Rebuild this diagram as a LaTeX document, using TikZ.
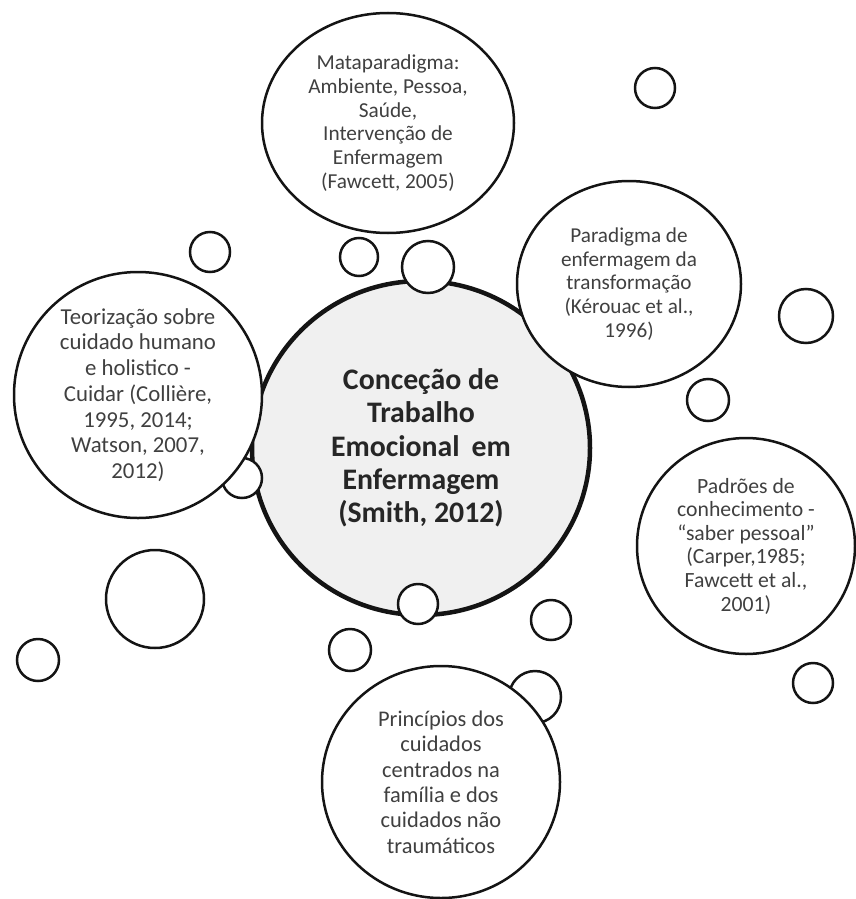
\documentclass[tikz,border=0pt]{standalone}
\usepackage{fontspec}
\setmainfont{Carlito}
\usepackage{tikz}
\usetikzlibrary{shapes.geometric}

\definecolor{fundo}{rgb}{0.94,0.94,0.94}
\definecolor{texto}{rgb}{0.25,0.25,0.25}
\definecolor{traco}{rgb}{0.08,0.08,0.08}

\tikzset{
  bolha/.style={ellipse, draw=traco, line width=2.5pt, fill=white, inner sep=-25pt,
    align=center, text=texto, font=\fontsize{21.3}{23.7}\selectfont},
  bolinha/.style={circle, draw=traco, line width=2.5pt, fill=white, inner sep=0pt},
  centro/.style={ellipse, draw=traco, line width=4.5pt, fill=fundo, inner sep=-25pt,
    align=center, text=black!85, font=\bfseries\fontsize{29.8}{33.3}\selectfont},
}

\begin{document}
\begin{tikzpicture}[x=1pt,y=-1pt]
  \useasboundingbox (0,0) rectangle (855,899);
%%
% Node: bolinha behind Principios
\node[bolinha, minimum size=52pt] (b_pr) at (535,697) {};
% Node: centro
\node[centro, minimum width=338pt, minimum height=334pt] (centro) at (421,448)
  {Conceção de\\Trabalho\\Emocional\hspace{0.4em}em\\Enfermagem\\(Smith, 2012)};
% Nodes: bolinhas on the central circle
\node[bolinha, minimum size=52pt] (b_topo) at (428,267) {};
\node[bolinha, minimum size=40pt] (b_base) at (418,604) {};
\node[bolinha, minimum size=40pt] (b_esq) at (242,478) {};
% Node: teoria
\node[bolha, minimum width=248pt, minimum height=246pt,
  font=\fontsize{22.8}{25.7}\selectfont] (teoria) at (138,395)
  {Teorização sobre\\cuidado humano\\e holistico -\\Cuidar (Collière,\\1995, 2014;\\Watson, 2007,\\2012)};
% Node: meta
\node[bolha, minimum width=252pt, minimum height=220pt] (meta) at (388,123)
  {Mataparadigma:\\Ambiente, Pessoa,\\Saúde,\\Intervenção de\\Enfermagem\\(Fawcett, 2005)};
% Node: paradigma
\node[bolha, minimum width=224pt, minimum height=206pt,
  font=\fontsize{21.2}{23.8}\selectfont] (paradigma) at (629,284)
  {Paradigma de\\enfermagem da\\transformação\\(Kérouac et al.,\\1996)};
% Node: padroes
\node[bolha, minimum width=218pt, minimum height=216pt,
  font=\fontsize{21.7}{23.6}\selectfont] (padroes) at (746,546)
  {Padrões de\\conhecimento -\\“saber pessoal”\\(Carper,1985;\\Fawcett et al.,\\2001)};
% Node: principios
\node[bolha, minimum width=238pt, minimum height=232pt,
  font=\fontsize{22.4}{25.4}\selectfont] (principios) at (441,782)
  {Princípios dos\\cuidados\\centrados na\\família e dos\\cuidados não\\traumáticos};
% Nodes: loose bolinhas
\node[bolinha, minimum size=38pt] (b1) at (359,257) {};
\node[bolinha, minimum size=40pt] (b2) at (655,88) {};
\node[bolinha, minimum size=40pt] (b3) at (210,252) {};
\node[bolinha, minimum size=54pt] (b4) at (806,316) {};
\node[bolinha, minimum size=42pt] (b5) at (708,400) {};
\node[bolinha, minimum size=40pt] (b6) at (813,683) {};
\node[bolinha, minimum size=40pt] (b7) at (551,620) {};
\node[bolinha, minimum size=42pt] (b8) at (350,650) {};
\node[bolinha, minimum size=98pt] (b9) at (155,599) {};
\node[bolinha, minimum size=42pt] (b10) at (38,660) {};
%
\end{tikzpicture}
\end{document}
